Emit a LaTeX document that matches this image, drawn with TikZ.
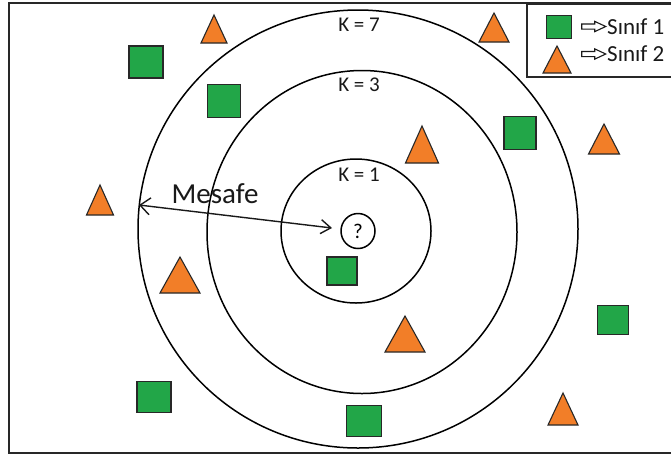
\documentclass[tikz,border=0pt]{standalone}
\usepackage{fontspec}
\setmainfont{Carlito}
\usetikzlibrary{shapes.geometric,shapes.arrows,arrows.meta}
\definecolor{sqgreen}{RGB}{34,166,72}
\definecolor{triorange}{RGB}{242,126,40}
\definecolor{edgegray}{RGB}{40,40,40}
\newcommand\Tri[5]{\filldraw[tristyle] (#2-#4/2,#3) coordinate (#1) -- (#2,#3-#5) -- (#2+#4/2,#3) -- cycle;}
\begin{document}
\begin{tikzpicture}[x=1pt,y=-1pt,
  sqstyle/.style={draw=edgegray, fill=sqgreen, line width=1.1pt, inner sep=0pt},
  tristyle/.style={draw=edgegray, fill=triorange, line width=1.1pt, line join=miter},
  ring/.style={draw=black, line width=1.5pt, ellipse, inner sep=0pt},
  klabel/.style={font=\fontsize{21}{22}\selectfont, text=black!90},
  legarrow/.style={draw=black!90, line width=1.1pt, single arrow, single arrow head extend=2.6pt, single arrow tip angle=50, single arrow head indent=0pt, inner sep=2pt, minimum height=24pt},
  legtext/.style={font=\fontsize{23}{25}\selectfont, text=black!90, anchor=west, inner sep=0pt}]
\useasboundingbox (0,0) rectangle (671,459);
\clip (0,0) rectangle (671,459);
\fill[white] (0,0) rectangle (671,459);
% outer frame
\draw[edgegray, line width=1.5pt] (9,3) rectangle (690,453);
% rings
\node[ring, minimum width=440pt, minimum height=438pt] (k7) at (358,229) {};
\node[ring, minimum width=310pt, minimum height=323pt] (k3) at (362,232) {};
\node[ring, minimum width=150pt, minimum height=144pt] (k1) at (356,231) {};
\node[ring, minimum width=34pt, minimum height=35pt, font=\fontsize{21}{22}\selectfont] (q) at (358,231) {?};
% labels
\node[klabel] (l7) at (359,25) {K = 7};
\node[klabel] (l3) at (359,85) {K = 3};
\node[klabel] (l1) at (359,175) {K = 1};
\node[font=\fontsize{29}{31}\selectfont, text=black!90] (mes) at (215,194) {Mesafe};
% distance arrow
\coordinate (mL) at (139,205);
\coordinate (mR) at (332,228);
\draw[line width=1.4pt, black!90, {Straight Barb[length=10pt,width=17pt]}-{Straight Barb[length=10pt,width=14pt]}] (mL) -- (mR);
% squares
\node[sqstyle, minimum width=34pt, minimum height=32pt] (s1) at (146,62) {};
\node[sqstyle, minimum width=33pt, minimum height=33pt] (s2) at (224,101) {};
\node[sqstyle, minimum width=32pt, minimum height=33pt] (s3) at (520,133) {};
\node[sqstyle, minimum width=30pt, minimum height=28pt] (s4) at (342,271) {};
\node[sqstyle, minimum width=31pt, minimum height=29pt] (s5) at (613,320) {};
\node[sqstyle, minimum width=34pt, minimum height=31pt] (s6) at (154,397) {};
\node[sqstyle, minimum width=35pt, minimum height=31pt] (s7) at (364,421) {};
% triangles: name, center x, base y, width, height
\Tri{t1}{214}{43}{26}{28}
\Tri{t2}{494}{42}{30}{29}
\Tri{t3}{422}{163}{33}{37}
\Tri{t4}{604}{154}{31}{30}
\Tri{t5}{100}{215}{27}{30}
\Tri{t6}{180}{293}{40}{36}
\Tri{t7}{405}{352}{40}{36}
\Tri{t8}{563}{425}{30}{32}
% legend
\draw[edgegray, line width=1.5pt] (527,4) rectangle (690,77);
\node[sqstyle, minimum width=25pt, minimum height=23pt] (ls) at (559,27) {};
\Tri{lt}{557}{73}{28}{27}
\node[legarrow] (a1) at (591,26.5) {};
\node[legarrow] (a2) at (591,54) {};
\node[legtext] (n1) at (607,26.5) {Sınıf 1};
\node[legtext] (n2) at (607,54) {Sınıf 2};
\end{tikzpicture}
\end{document}
